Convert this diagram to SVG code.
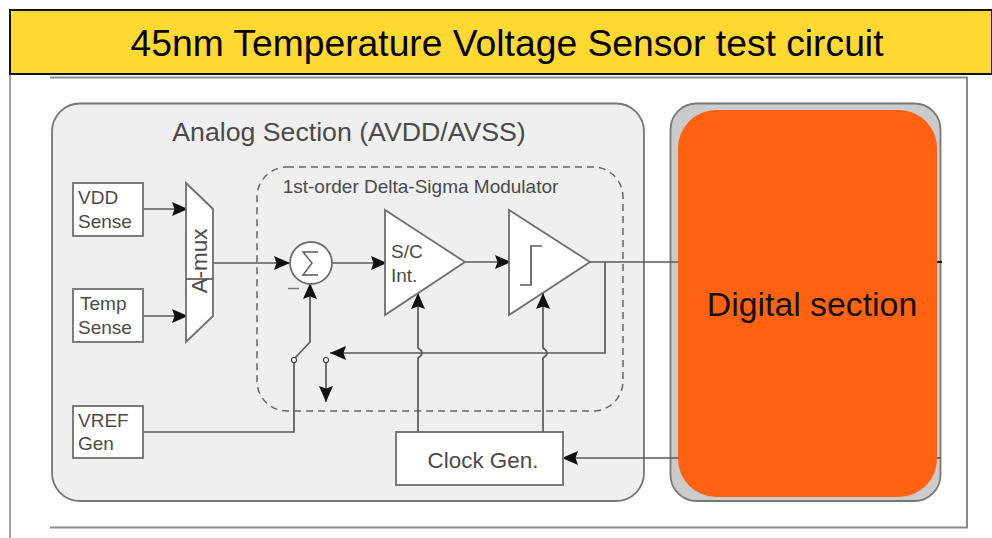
<svg xmlns="http://www.w3.org/2000/svg" width="992" height="538" viewBox="0 0 992 538">
<style>
text{font-family:"Liberation Sans",Arial,sans-serif;fill:#4a4a4a}
.box{fill:#fff;stroke:#6e6e6e;stroke-width:1.800}
.wire{fill:none;stroke:#5a5a5a;stroke-width:1.700}
.arrow{marker-end:url(#head)}
.lbl{font-size:19px}
</style>
<defs>
<marker id="head" markerUnits="userSpaceOnUse" markerWidth="17" markerHeight="15" refX="16" refY="7" orient="auto">
<path d="M0 0L16 7L0 14L2.500 7Z" fill="#111"/>
</marker>
</defs>
<rect width="992" height="538" fill="#fff"/>
<g id="frame">
<path d="M10 74V538" fill="none" stroke="#666" stroke-width="1.200"/>
<path d="M50 77.500H967V527.500H50" fill="none" stroke="#8a8a8a" stroke-width="2"/>
</g>
<g id="title">
<rect x="10" y="10" width="982" height="64" fill="#ffd932" stroke="#111" stroke-width="2"/>
<text x="507" y="56" font-size="37.250" text-anchor="middle" style="fill:#000">45nm Temperature Voltage Sensor test circuit</text>
</g>
<g id="analog-section">
<rect x="52" y="103.500" width="592" height="397.500" rx="28" fill="#efefef" stroke="#777" stroke-width="1.800"/>
<text x="349" y="141" font-size="26.700" text-anchor="middle">Analog Section (AVDD/AVSS)</text>
</g>
<g id="digital-outer">
<rect x="670.500" y="103.500" width="270" height="397.500" rx="26" fill="#cbcbcb" stroke="#777" stroke-width="1.800"/>
</g>
<g id="modulator">
<rect x="257" y="167" width="366" height="244" rx="30" fill="none" stroke="#666" stroke-width="1.500" stroke-dasharray="7 5"/>
<text x="420.500" y="193" font-size="19" text-anchor="middle">1st-order Delta-Sigma Modulator</text>
</g>
<g id="connectors">
<path class="wire arrow" d="M143 209H188"/>
<path class="wire arrow" d="M143 316H188"/>
<path class="wire arrow" d="M213 263H290"/>
<path class="wire arrow" d="M332 263H387"/>
<path class="wire arrow" d="M465 262H511"/>
<path class="wire" d="M590 262H678"/>
<path class="wire" d="M937 262H942" style="stroke:#111;stroke-width:2"/>
<path class="wire arrow" d="M605 262V353H330"/>
<path class="wire arrow" d="M418 432V358Q426 353 418 348V293"/>
<path class="wire arrow" d="M543 432V358Q551 353 543 348V293"/>
<path class="wire arrow" d="M678 458H562"/>
<path class="wire" d="M937 458H941"/>
<path class="wire" d="M143 432H294V363"/>
<path class="wire arrow" d="M295 358L310 342V283"/>
<path class="wire arrow" d="M326 363V402"/>
</g>
<g id="vdd-sense">
<rect class="box" x="73" y="183" width="70" height="53"/>
<text class="lbl" x="78" y="204">VDD</text><text class="lbl" x="78" y="228">Sense</text>
</g>
<g id="temp-sense">
<rect class="box" x="73" y="289" width="70" height="53"/>
<text class="lbl" x="80" y="310">Temp</text><text class="lbl" x="78" y="334">Sense</text>
</g>
<g id="vref-gen">
<rect class="box" x="73" y="406" width="70" height="52"/>
<text class="lbl" x="78" y="427">VREF</text><text class="lbl" x="78" y="450">Gen</text>
</g>
<g id="a-mux">
<path class="box" d="M186 183L213 209V316L186 342Z"/>
<path class="wire" d="M186 279H213"/>
<text transform="translate(207 261) rotate(-90)" text-anchor="middle" font-size="22.400">A-mux</text>
</g>
<g id="summer">
<circle class="box" cx="311" cy="263" r="21"/>
<path d="M318 252H303L312 263L303 275H318" fill="none" stroke="#5a5a5a" stroke-width="1.400"/>
<path d="M288 288.500H299" stroke="#777" stroke-width="1.500"/>
</g>
<g id="switch">
<circle cx="294" cy="360" r="2.500" fill="#fff" stroke="#444" stroke-width="1.200"/>
<circle cx="326" cy="360" r="2.500" fill="#fff" stroke="#444" stroke-width="1.200"/>
</g>
<g id="integrator">
<path class="box" d="M385 210L465 262L385 315Z"/>
<text class="lbl" x="391" y="258">S/C</text><text class="lbl" x="391" y="282">Int.</text>
</g>
<g id="comparator">
<path class="box" d="M509 210L590 262L509 315Z"/>
<path class="wire" d="M520 285H531V246H542"/>
</g>
<g id="clock-gen">
<rect class="box" x="396" y="432" width="167" height="53"/>
<text x="483" y="468" font-size="22.400" text-anchor="middle">Clock Gen.</text>
</g>
<g id="digital-section">
<rect x="678" y="110" width="259" height="387" rx="38" fill="#ff6210"/>
<text x="812" y="316" font-size="33.800" text-anchor="middle" style="fill:#111">Digital section</text>
</g>
</svg>
